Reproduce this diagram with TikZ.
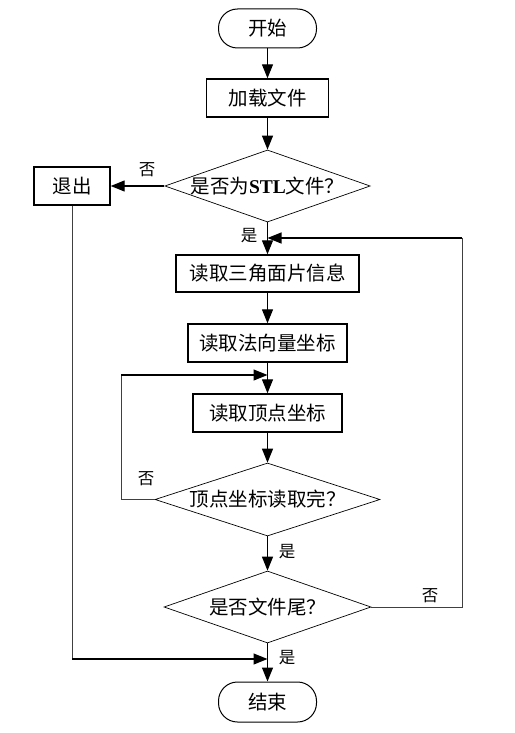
\documentclass[tikz,border=0pt]{standalone}
\usepackage{fontspec}
\setmainfont{Liberation Serif}
\newfontfamily\cjk{Noto Sans CJK SC}
\usetikzlibrary{shapes.geometric,arrows.meta}
\tikzset{
  txt/.style={font=\cjk\fontsize{19.5}{23}\selectfont},
  proc/.style={draw, line width=1.4pt, minimum height=38pt, inner sep=0pt, txt},
  term/.style={draw, line width=1pt, rounded corners=19pt, minimum width=98pt, minimum height=39pt, inner sep=0pt, txt},
  dec/.style={draw, diamond, line width=0.7pt, inner sep=0pt, txt},
  arr/.style={-{Triangle[length=14pt,width=11pt]}, line width=1.2pt},
  thinline/.style={line width=0.9pt, draw=black!75},
  lbl/.style={font=\cjk\fontsize{16.5}{20}\selectfont, inner sep=0pt}
}
\begin{document}
\begin{tikzpicture}[x=1pt,y=-1pt]
\useasboundingbox[fill=white] (0,0) rectangle (514,733);
\node[term] (start) at (267.5,28.5) {开始};
\node[proc, minimum width=122pt] (load) at (267.5,98) {加载文件};
\node[dec, minimum width=205pt, minimum height=72pt, aspect=2.85] (d1) at (267.5,186) {是否为{\rmfamily\bfseries STL}文件？};
\node[proc, minimum width=76pt] (quit) at (72,186) {退出};
\node[proc, minimum width=183pt, minimum height=37pt] (r1) at (267.5,273.5) {读取三角面片信息};
\node[proc, minimum width=159pt] (r2) at (267.5,343) {读取法向量坐标};
\node[proc, minimum width=149pt] (r3) at (267.5,413) {读取顶点坐标};
\node[dec, minimum width=225pt, minimum height=73pt, aspect=3.08] (d2) at (267.5,499.5) {顶点坐标读取完？};
\node[dec, minimum width=207pt, minimum height=72pt, aspect=2.87] (d3) at (267.5,607) {是否文件尾？};
\node[term, minimum height=40pt] (end) at (267.5,702) {结束};

\coordinate (m1) at (267.5,238);
\coordinate (ra) at (462,238);
\coordinate (m2) at (267.5,375);
\coordinate (la) at (121,375);
\coordinate (m3) at (267.5,659);

\draw[arr] (start) -- (load);
\draw[arr] (load) -- (d1);
\draw[arr] (d1.west) -- (quit.east);
\draw[arr] (d1.south) -- (r1.north);
\draw[arr] (r1) -- (r2);
\draw[arr] (r2) -- (r3);
\draw[arr] (r3) -- (d2.north);
\draw[arr] (d2.south) -- (d3.north);
\draw[arr] (d3.south) -- (end.north);

\draw[thinline] (d2.west) -- (d2.west -| la) -- (la);
\draw[arr] (la) -- (m2);
\draw[thinline] (d3.east) -- (d3.east -| ra) -- (ra);
\draw[arr] (ra) -- (m1);
\draw[thinline] (quit.south) -- (quit.south |- m3);
\draw[arr] (quit.south |- m3) -- (m3);

\node[lbl] (n1) at (147,170) {否};
\node[lbl] (y1) at (249,236) {是};
\node[lbl] (n2) at (146,479) {否};
\node[lbl] (y2) at (287,552) {是};
\node[lbl] (n3) at (430,596) {否};
\node[lbl] (y3) at (287,658) {是};
\end{tikzpicture}
\end{document}
